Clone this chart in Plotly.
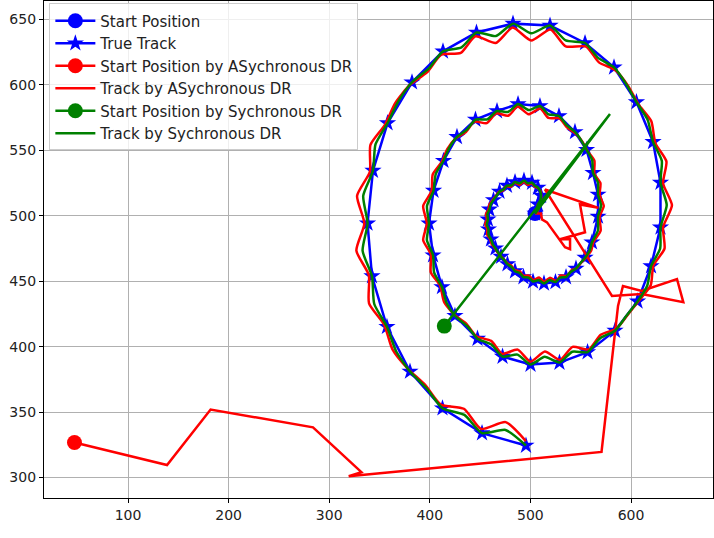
import plotly.graph_objects as go

# ---------------- data ----------------
start_true = (504.6, 501.8)

true_x = [504.6, 507.5, 510.5, 507.5, 501.6, 493.6, 484.7, 476.7, 469.3, 463.3, 459.3,
          457.8, 458.3, 460.8, 465.3, 470.8, 477.2, 484.7, 493.1, 502.6, 513.5,
          524.9, 535.4, 545.3, 554.3, 561.2, 567.2, 567.2, 562.2, 555.8, 544.3,
          528.4, 509.5, 487.7, 466.8, 445.4, 427.0, 413.6, 403.7, 399.2, 403.2,
          412.1, 425.0, 447.4, 472.3, 500.1, 528.9, 556.8, 584.1, 606.5, 619.9,
          629.3, 629.3, 621.9, 605.4, 583.1, 554.3, 519.5, 482.7, 446.4, 413.1,
          382.3, 358.0, 343.5, 338.1, 342.5, 357.4, 380.3, 412.6, 451.9, 495.6]
true_y = [501.8, 508.7, 515.5, 521.6, 525.4, 526.9, 525.8, 523.1, 518.5, 512.1, 504.9,
          497.3, 489.7, 482.1, 475.2, 468.8, 463.1, 457.7, 453.2, 449.8, 448.3,
          449.4, 453.2, 459.6, 468.0, 479.8, 499.5, 516.3, 532.9, 550.5, 564.1,
          576.3, 583.9, 585.4, 580.1, 573.6, 560.3, 542.1, 519.3, 494.2, 469.9,
          445.6, 423.6, 406.1, 392.4, 386.3, 387.8, 395.8, 412.2, 434.6, 461.5,
          491.2, 525.4, 556.5, 586.9, 613.5, 632.1, 645.4, 646.9, 640.1, 625.7,
          602.1, 570.9, 534.5, 494.2, 453.9, 415.2, 381.0, 352.9, 333.9, 324.4]

start_async = (46.8, 326.7)
async_jump_x = [46.8, 138.8, 182.1, 283.9, 332.0, 319.4, 570.7, 587.1, 592.0, 610.6,
                645.7, 652.0, 610.6, 581.1, 514.5, 567.5, 549.3, 554.3, 529.4, 539.4,
                539.4, 534.4, 516.5, 511.5, 510.5, 504.7]
async_jump_y = [326.7, 309.5, 351.9, 338.3, 304.1, 301.0, 319.5, 431.1, 446.3, 442.5,
                451.7, 434.0, 440.3, 438.7, 520.1, 506.1, 508.7, 487.4, 482.1, 482.1,
                474.5, 476.0, 495.0, 497.3, 501.8, 501.7]

async_x = [504.7, 507.6, 507.3, 510.3, 510.7, 510.2, 507.9, 504.3, 501.4, 497.2, 493.5,
           489.2, 484.2, 480.9, 476.0, 472.8, 468.5, 465.4, 462.3, 459.4, 458.3,
           455.8, 456.8, 455.1, 457.3, 457.0, 459.8, 461.5, 464.7, 467.1, 470.3,
           473.5, 476.8, 481.1, 484.3, 489.5, 492.8, 498.5, 502.8, 508.6, 513.6,
           519.5, 525.5, 530.1, 536.3, 540.6, 546.4, 550.8, 555.5, 560.5, 562.6,
           569.8, 568.7, 572.9, 568.8, 569.6, 563.6, 563.6, 557.0, 551.8, 545.3,
           536.3, 529.0, 518.0, 509.8, 498.2, 487.4, 478.0, 466.0, 456.6, 444.2,
           435.9, 425.4, 417.3, 411.8, 402.9, 401.7, 393.4, 397.1, 393.4, 401.2,
           401.0, 410.3, 414.1, 423.5, 436.0, 446.3, 461.0, 471.8, 487.3, 500.1,
           514.4, 529.5, 541.9, 557.9, 569.9, 585.8, 597.2, 608.6, 619.6, 622.3,
           633.3, 631.9, 640.7, 631.9, 635.2, 624.3, 620.1, 607.5, 597.3, 584.8,
           568.1, 555.4, 535.1, 519.9, 500.7, 482.4, 465.5, 445.3, 430.8, 411.4,
           397.2, 380.0, 365.6, 355.2, 341.0, 340.4, 327.7, 334.9, 327.0, 339.4,
           339.6, 354.6, 362.9, 377.9, 395.4, 410.9, 433.9, 450.9, 475.4, 495.5]
async_y = [501.7, 504.3, 508.6, 511.2, 515.1, 518.6, 521.0, 522.4, 524.9, 523.7, 526.1,
           523.6, 525.4, 522.3, 522.6, 519.4, 518.2, 514.9, 511.9, 508.8, 504.9,
           501.3, 497.2, 493.6, 489.6, 485.6, 482.5, 478.4, 475.4, 472.4, 469.2,
           466.8, 463.9, 461.8, 458.6, 457.6, 454.2, 454.3, 450.9, 452.8, 449.5,
           452.7, 450.2, 454.4, 454.0, 458.3, 460.2, 464.5, 468.4, 473.6, 480.0,
           488.6, 499.2, 507.5, 515.9, 525.0, 532.0, 542.1, 549.3, 556.5, 562.6,
           567.6, 574.5, 574.8, 582.0, 577.6, 583.5, 576.5, 578.3, 570.8, 572.0,
           564.1, 559.0, 551.0, 541.2, 531.6, 518.8, 507.5, 494.2, 481.4, 470.4,
           456.8, 446.6, 434.3, 425.0, 417.8, 407.9, 404.4, 394.5, 397.7, 388.5,
           396.3, 389.9, 399.8, 397.8, 409.0, 413.9, 424.8, 435.8, 447.0, 462.2,
           474.9, 491.3, 508.0, 524.8, 541.6, 555.3, 572.4, 585.1, 599.1, 611.1,
           617.3, 629.4, 629.5, 642.4, 634.0, 643.9, 632.1, 637.2, 624.5, 623.1,
           609.6, 600.0, 586.2, 569.4, 554.2, 533.7, 515.3, 494.2, 473.4, 454.7,
           433.1, 416.8, 397.9, 383.3, 370.7, 355.7, 352.5, 337.1, 342.3, 327.8]

start_sync = (414.4, 415.7)
sync_lead_x = [414.4, 579.1, 504.6]
sync_lead_y = [415.7, 577.8, 501.8]

sync_x = [504.6, 506.9, 507.5, 509.8, 510.5, 509.7, 507.5, 504.3, 501.6, 497.4, 493.6,
          489.3, 484.7, 481.1, 476.7, 473.4, 469.3, 466.3, 463.3, 460.6, 459.3,
          457.3, 457.8, 456.7, 458.3, 458.4, 460.8, 462.6, 465.3, 467.9, 470.8,
          474.1, 477.2, 481.3, 484.7, 489.4, 493.1, 498.3, 502.6, 508.3, 513.5,
          519.0, 524.9, 529.6, 535.4, 539.9, 545.3, 549.7, 554.3, 558.8, 561.2,
          567.1, 567.2, 570.2, 567.2, 567.2, 562.2, 561.4, 555.8, 550.5, 544.3,
          535.8, 528.4, 518.0, 509.5, 498.3, 487.7, 478.1, 466.8, 457.1, 445.4,
          436.9, 427.0, 419.3, 413.6, 405.9, 403.7, 397.2, 399.2, 397.1, 403.2,
          404.3, 412.1, 416.6, 425.0, 437.0, 447.4, 461.2, 472.3, 487.2, 500.1,
          514.2, 528.9, 541.6, 556.8, 569.1, 584.1, 595.3, 606.5, 616.1, 619.9,
          629.0, 629.3, 635.5, 629.3, 630.6, 621.9, 616.6, 605.4, 595.1, 583.1,
          567.3, 554.3, 535.1, 519.5, 500.8, 482.7, 465.7, 446.4, 431.5, 413.1,
          398.8, 382.3, 368.8, 358.0, 346.0, 343.5, 333.8, 338.1, 333.2, 342.5,
          344.8, 357.4, 366.5, 380.3, 397.2, 412.6, 434.4, 451.9, 475.3, 495.6]
sync_y = [501.8, 504.9, 508.7, 511.7, 515.5, 518.9, 521.6, 523.1, 525.4, 524.8, 526.9,
          524.8, 525.8, 523.3, 523.1, 520.2, 518.5, 515.3, 512.1, 508.9, 504.9,
          501.3, 497.3, 493.4, 489.7, 485.5, 482.1, 478.3, 475.2, 471.9, 468.8,
          466.1, 463.1, 460.8, 457.7, 456.3, 453.2, 452.8, 449.8, 450.9, 448.3,
          450.9, 449.4, 452.8, 453.2, 457.1, 459.6, 463.9, 468.0, 473.3, 479.8,
          488.8, 499.5, 507.9, 516.3, 525.4, 532.9, 542.6, 550.5, 557.7, 564.1,
          569.5, 576.3, 577.6, 583.9, 580.8, 585.4, 579.5, 580.1, 573.7, 573.6,
          565.9, 560.3, 551.9, 542.1, 531.9, 519.3, 507.5, 494.2, 481.4, 469.9,
          456.5, 445.6, 433.5, 423.6, 415.8, 406.1, 401.6, 392.4, 393.9, 386.3,
          392.2, 387.8, 396.1, 395.8, 406.3, 412.2, 423.4, 434.6, 446.6, 461.5,
          475.0, 491.2, 508.3, 525.4, 542.1, 556.5, 573.3, 586.9, 600.9, 613.5,
          620.7, 632.1, 634.1, 645.4, 639.5, 646.9, 637.4, 640.1, 628.8, 625.7,
          612.5, 602.1, 587.6, 570.9, 554.6, 534.5, 515.3, 494.2, 473.3, 453.9,
          432.6, 415.2, 396.5, 381.0, 367.8, 352.9, 347.8, 333.9, 336.3, 324.4]

x_ticks = [100, 200, 300, 400, 500, 600]
y_ticks = [300, 350, 400, 450, 500, 550, 600, 650]

BLUE, RED, GREEN = "#0000ff", "#ff0000", "#008000"
LW = 2.5

fig = go.Figure()
fig.add_trace(go.Scatter(x=[start_true[0]], y=[start_true[1]], mode="lines+markers",
                         name="Start Position", line=dict(color=BLUE, width=LW),
                         marker=dict(color=BLUE, size=15, symbol="circle")))
fig.add_trace(go.Scatter(x=true_x, y=true_y, mode="lines+markers", name="True Track",
                         line=dict(color=BLUE, width=LW),
                         marker=dict(color=BLUE, size=13, symbol="star", line=dict(width=0))))
fig.add_trace(go.Scatter(x=[start_async[0]], y=[start_async[1]], mode="lines+markers",
                         name="Start Position by ASychronous DR", line=dict(color=RED, width=LW),
                         marker=dict(color=RED, size=15, symbol="circle")))
fig.add_trace(go.Scatter(x=async_jump_x, y=async_jump_y, mode="lines",
                         name="Track by ASychronous DR", legendgroup="async",
                         line=dict(color=RED, width=LW)))
fig.add_trace(go.Scatter(x=async_x, y=async_y, mode="lines", showlegend=False,
                         legendgroup="async",
                         line=dict(color=RED, width=LW, shape="spline", smoothing=0.6)))
fig.add_trace(go.Scatter(x=[start_sync[0]], y=[start_sync[1]], mode="lines+markers",
                         name="Start Position by Sychronous DR", line=dict(color=GREEN, width=LW),
                         marker=dict(color=GREEN, size=15, symbol="circle")))
fig.add_trace(go.Scatter(x=sync_lead_x, y=sync_lead_y, mode="lines",
                         name="Track by Sychronous DR", legendgroup="sync",
                         line=dict(color=GREEN, width=LW)))
fig.add_trace(go.Scatter(x=sync_x, y=sync_y, mode="lines", showlegend=False,
                         legendgroup="sync",
                         line=dict(color=GREEN, width=LW, shape="spline", smoothing=0.6)))

axis_common = dict(showgrid=True, gridcolor="#b0b0b0", gridwidth=1,
                   showline=True, linecolor="black", linewidth=1.3, mirror=True,
                   ticks="outside", ticklen=4, tickcolor="black",
                   zeroline=False, tickfont=dict(size=14, color="#222222"))

fig.update_layout(
    width=714, height=538,
    margin=dict(l=44, r=1, t=1, b=40),
    plot_bgcolor="white", paper_bgcolor="white",
    font=dict(family="DejaVu Sans", size=14, color="#222222"),
    xaxis=dict(range=[16.5, 681.5], tickvals=x_ticks, **axis_common),
    yaxis=dict(range=[284.3, 664.2], tickvals=y_ticks, **axis_common),
    legend=dict(x=0.008, y=0.995, xanchor="left", yanchor="top",
                bgcolor="rgba(255,255,255,0.8)", bordercolor="#cccccc", borderwidth=1,
                font=dict(size=15, color="#222222"), tracegroupgap=0,
                itemwidth=40),
    showlegend=True,
)

fig.write_html("out.html")
